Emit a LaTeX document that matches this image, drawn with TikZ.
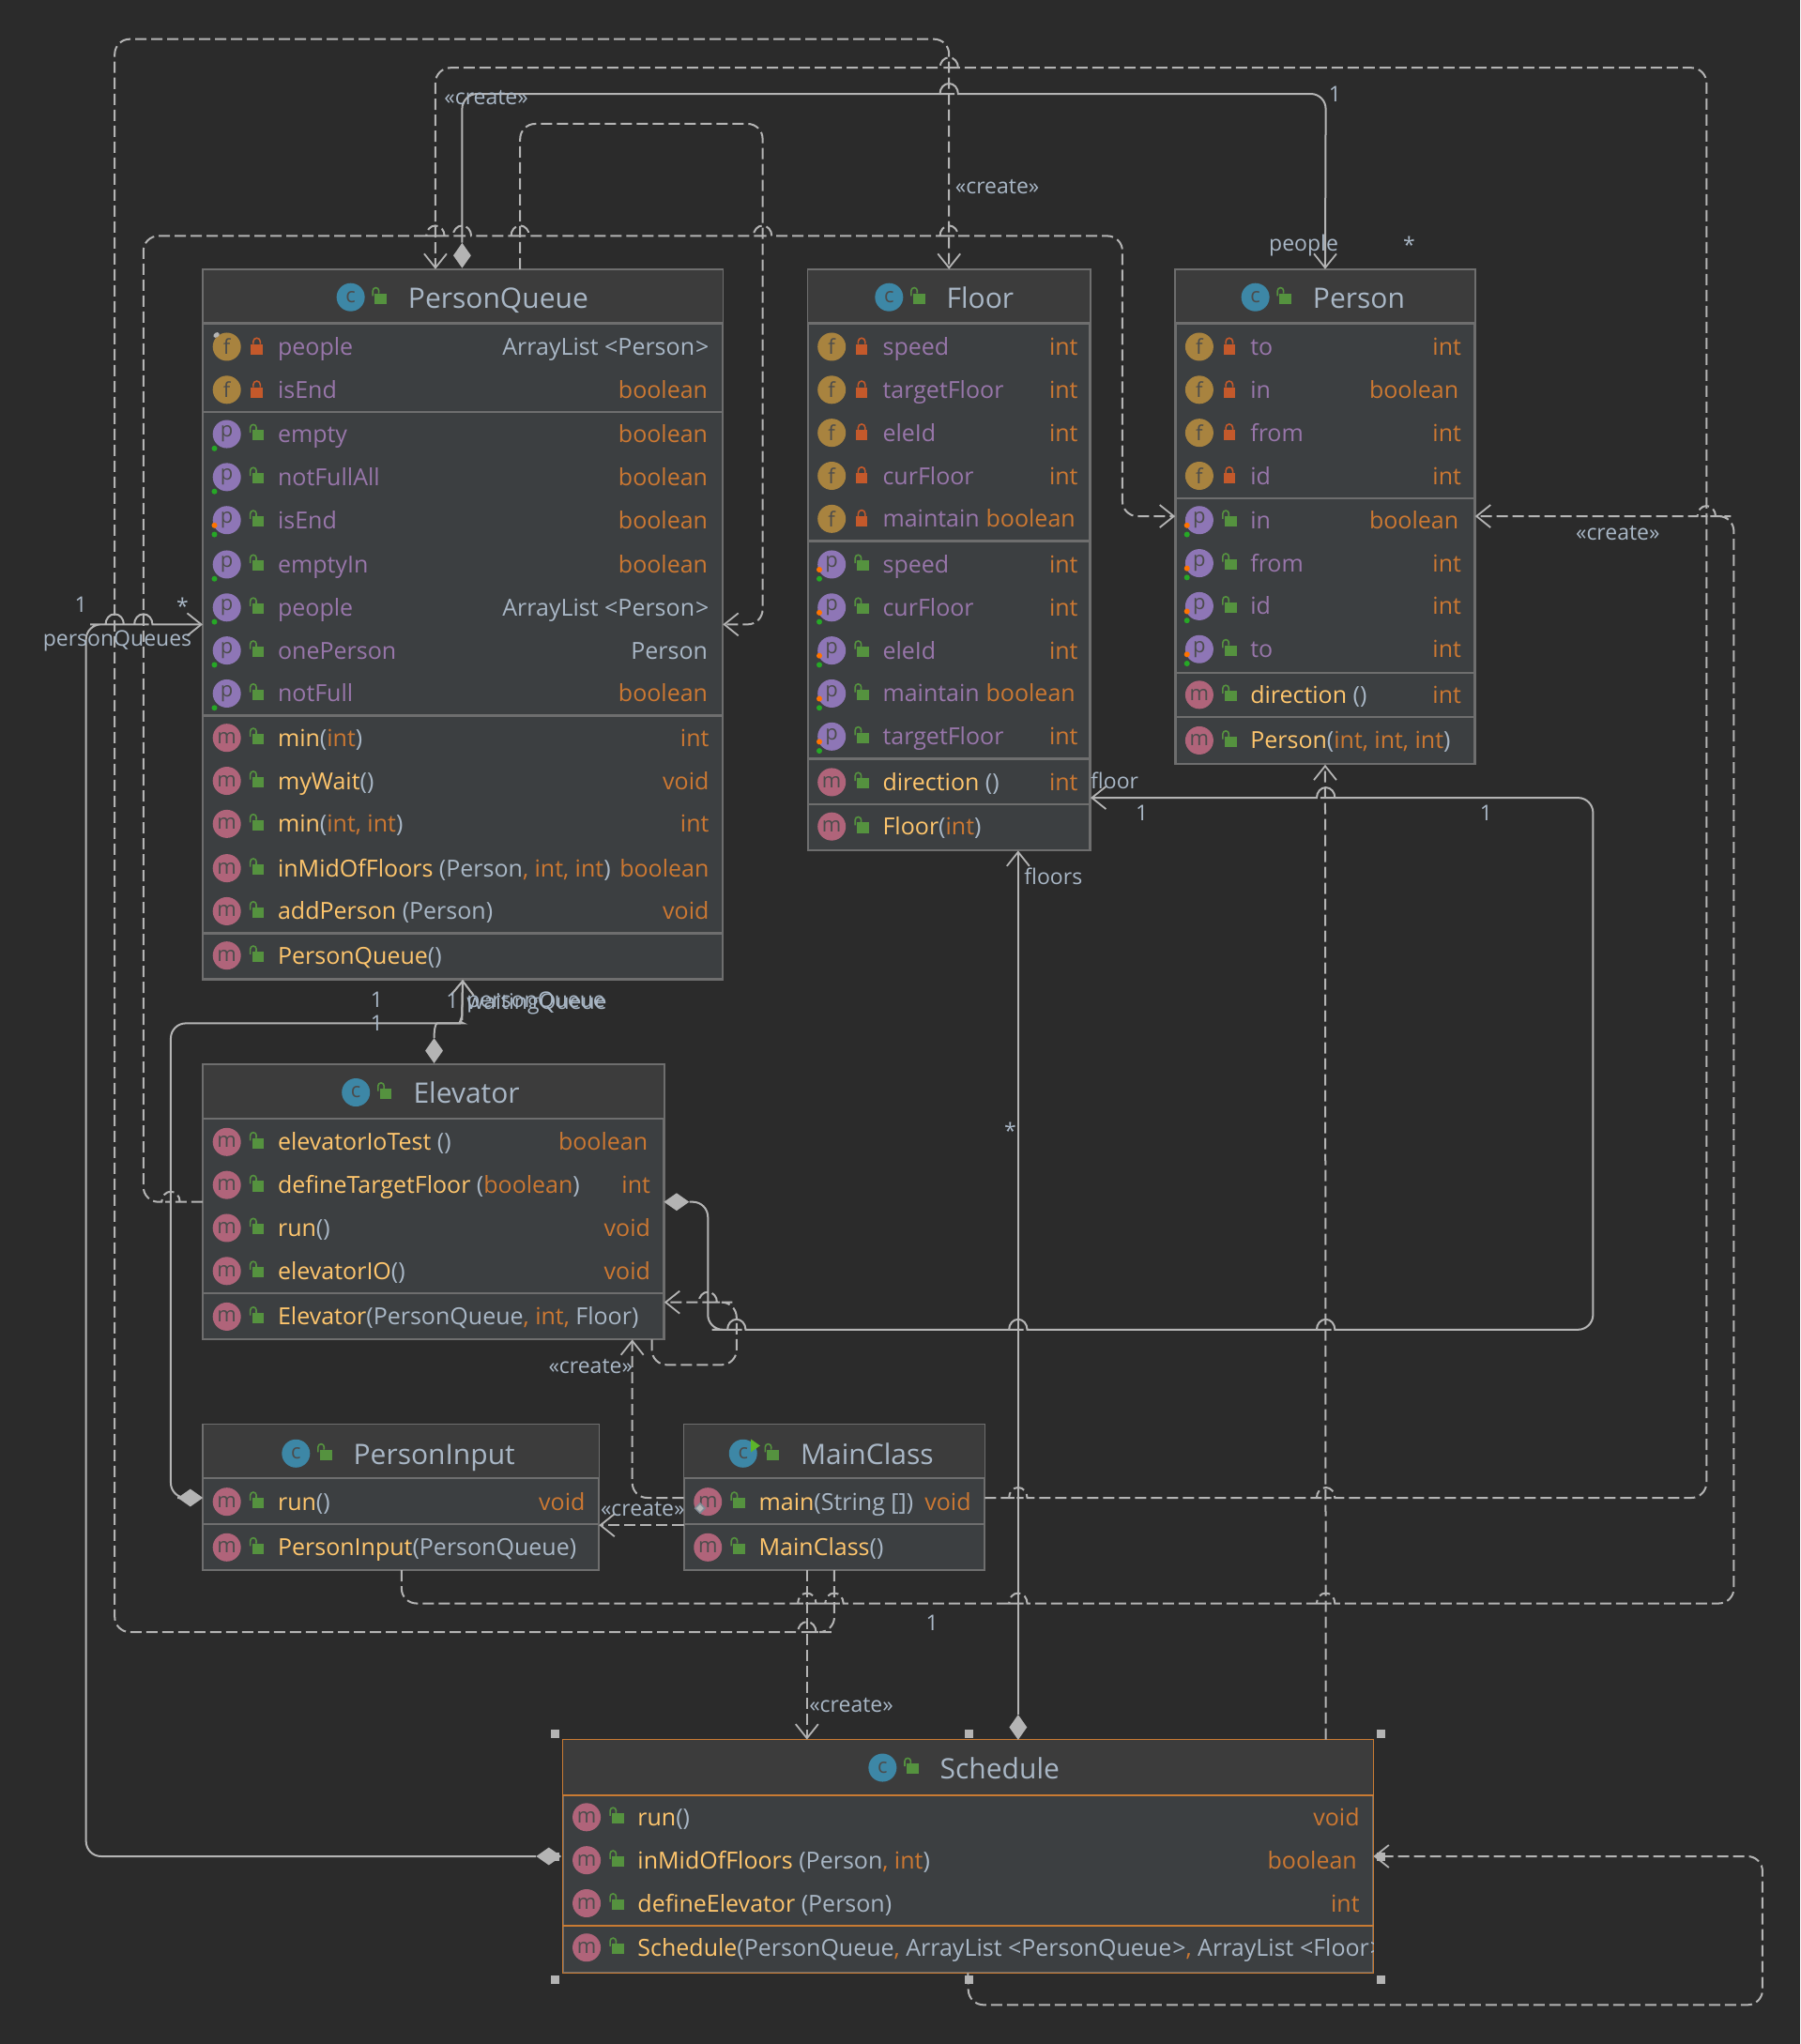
\documentclass[tikz,border=0pt]{standalone}
\usepackage{fontspec}
\setmainfont{Open Sans}
\usetikzlibrary{arrows.meta,positioning,fit,shapes.geometric}
\definecolor{bgdark}{HTML}{2B2B2B}
\definecolor{headfill}{HTML}{3C3C3C}
\definecolor{bodyfill}{HTML}{3C3F41}
\definecolor{framegrey}{HTML}{6E6E6E}
\definecolor{linegrey}{HTML}{B4B4B4}
\definecolor{selorange}{HTML}{C97B33}
\definecolor{plainblue}{HTML}{A9B7C6}
\definecolor{fieldpurple}{HTML}{9876AA}
\definecolor{methodyellow}{HTML}{FFC66D}
\definecolor{typeorange}{HTML}{CC7832}
\definecolor{iconC}{HTML}{3D87A6}
\definecolor{iconF}{HTML}{A8833F}
\definecolor{iconP}{HTML}{8E76B6}
\definecolor{iconM}{HTML}{B0647A}
\definecolor{lockpub}{HTML}{55923F}
\definecolor{lockpriv}{HTML}{C4592B}
\definecolor{runmark}{HTML}{5DB52A}
\tikzset{
  classbox/.style={draw=framegrey,line width=1.5pt,inner sep=0pt,fill=bodyfill},
  headband/.style={fill=headfill},
  sepline/.style={framegrey,line width=2.2pt},
  icon/.style={circle,inner sep=0pt,minimum size=30pt,font=\fontsize{22}{22}\selectfont,text=black!70},
  iconf/.style={icon,fill=iconF},
  iconp/.style={icon,fill=iconP},
  iconm/.style={icon,fill=iconM},
  iconc/.style={icon,fill=iconC},
  titletext/.style={anchor=base west,inner sep=0pt,yshift=-11.5pt,text=plainblue,font=\fontsize{30}{30}\selectfont},
  rowname/.style={anchor=base west,inner sep=0pt,yshift=-9pt,font=\fontsize{25}{25}\selectfont},
  rowtype/.style={anchor=base east,inner sep=0pt,yshift=-9pt,font=\fontsize{25}{25}\selectfont},
  lbl/.style={inner sep=0pt,text=plainblue,font=\fontsize{23}{23}\selectfont},
  dia/.style={diamond,fill=linegrey,inner sep=0pt},
  diav/.style={dia,minimum width=19pt,minimum height=27pt},
  diah/.style={dia,minimum width=27pt,minimum height=19pt},
  handle/.style={fill=linegrey,inner sep=0pt,minimum size=9pt},
  assoc/.style={draw=linegrey,line width=2pt,rounded corners=16pt,-{Straight Barb[length=15pt,width=24pt,line width=1.8pt]}},
  dep/.style={assoc,dash pattern=on 12pt off 5pt},
}
% text colours inside a row
\newcommand{\fn}[1]{\textcolor{fieldpurple}{#1}}
\newcommand{\mn}[1]{\textcolor{methodyellow}{#1}}
\newcommand{\ty}[1]{\textcolor{typeorange}{#1}}
\newcommand{\pn}[1]{\textcolor{plainblue}{#1}}
% line hops, left to right and right to left
\newcommand{\hopr}[2]{-- (#1-7.3,#2) {[sharp corners] -- (#1-7,#2) arc[start angle=180,end angle=0,x radius=9.7pt,y radius=11pt] -- (#1+7.3,#2)}}
\newcommand{\hopl}[2]{-- (#1+7.3,#2) {[sharp corners] -- (#1+7,#2) arc[start angle=0,end angle=180,x radius=9.7pt,y radius=11pt] -- (#1-7.3,#2)}}
% locks
\newcommand{\pubmark}[2]{
  \fill[lockpub] (#1-3.5,#2-3) rectangle (#1+5.5,#2+5);
  \draw[lockpub,line width=1.6pt] (#1-5,#2-1) -- (#1-5,#2-5) arc[start angle=180,end angle=0,radius=3.2pt] -- (#1-0.5,#2-3);
}
\newcommand{\privmark}[2]{
  \fill[lockpriv] (#1-4.5,#2-2) rectangle (#1+4.5,#2+6);
  \draw[lockpriv,line width=1.6pt] (#1-2.7,#2-2) -- (#1-2.7,#2-4) arc[start angle=180,end angle=0,radius=3.7pt] -- (#1+2.7,#2-2);
}
% class frame: name, x0, y0, x1, y1, y of the header line
\newcommand{\classframe}[6]{
  \node[classbox,fit={(#2,#3) (#4,#5)}] (#1) {};
  \fill[headband] (#1.north west) rectangle (#1.east |- 0,#6);
  \draw[sepline] (#1.west |- 0,#6) -- (#1.east |- 0,#6);
  \draw[draw=framegrey,line width=1.5pt] (#1.south west) rectangle (#1.north east);
  \def\rowL{#2}
}
% class header: name, icon x, text x, y, title
\newcommand{\classhead}[5]{
  \node[iconc] (#1Icon) at (#2,#4) {c};
  \pubmark{#2+22}{#4}
  \node[titletext] (#1Title) at (#3,#4) {#5};
}
% member row: id, y, kind, lock, text, type, right edge
\newcommand{\memberrow}[7]{
  \node[icon#3] (#1Icon) at (\rowL+18,#2) {#3};
  \csname #4mark\endcsname{\rowL+41}{#2}
  \node[rowname] (#1Name) at (\rowL+57,#2) {#5};
  \node[rowtype] (#1Type) at (#7,#2) {#6};
}
\newcommand{\greendot}[2]{\fill[green!60!black!85!white] (#1-9.5,#2+11) circle (3pt);}
\newcommand{\reddot}[2]{\fill[orange!90!red] (#1-9.5,#2+4) circle (3pt);}
\begin{document}
\begin{tikzpicture}[x=1.3889pt,y=-1.3889pt]
\fill[bgdark] (0,0) rectangle (1381,1568);
\useasboundingbox (0,0) rectangle (1381,1568);

%% PersonQueue
\classframe{pq}{156}{207}{554}{751}{248}
\classhead{pq}{269}{313}{228}{PersonQueue}
\memberrow{pqA}{266}{f}{priv}{\fn{people}}{\pn{ArrayList <Person\kern1pt>}}{544}
\memberrow{pqB}{299}{f}{priv}{\fn{isEnd}}{\ty{boolean}}{543}
\draw[sepline] (pq.west |- 0,316) -- (pq.east |- 0,316);
\memberrow{pqC}{333}{p}{pub}{\fn{empty}}{\ty{boolean}}{543}
\memberrow{pqD}{366}{p}{pub}{\fn{notFullAll}}{\ty{boolean}}{543}
\memberrow{pqE}{399}{p}{pub}{\fn{isEnd}}{\ty{boolean}}{543}
\memberrow{pqF}{433}{p}{pub}{\fn{emptyIn}}{\ty{boolean}}{543}
\memberrow{pqG}{466}{p}{pub}{\fn{people}}{\pn{ArrayList <Person\kern1pt>}}{544}
\memberrow{pqH}{499}{p}{pub}{\fn{onePerson}}{\pn{Person}}{543}
\memberrow{pqI}{532}{p}{pub}{\fn{notFull}}{\ty{boolean}}{543}
\draw[sepline] (pq.west |- 0,549) -- (pq.east |- 0,549);
\memberrow{pqJ}{566}{m}{pub}{\mn{min}\pn{(}\ty{int}\pn{)}}{\ty{int}}{544}
\memberrow{pqK}{599}{m}{pub}{\mn{myWait}\pn{()}}{\ty{void}}{544}
\memberrow{pqL}{632}{m}{pub}{\mn{min}\pn{(}\ty{int, int}\pn{)}}{\ty{int}}{544}
\memberrow{pqM}{666}{m}{pub}{\mn{inMidOfFloors }\pn{(Person}\ty{, int, int}\pn{)}}{\ty{boolean}}{544}
\memberrow{pqN}{699}{m}{pub}{\mn{addPerson }\pn{(Person)}}{\ty{void}}{544}
\draw[sepline] (pq.west |- 0,716) -- (pq.east |- 0,716);
\memberrow{pqO}{733}{m}{pub}{\mn{PersonQueue}\pn{()}}{}{544}
\foreach \y in {333,366,399,433,466,499,532} {\greendot{174}{\y}}
\reddot{174}{399}
\node[ellipse,fill=linegrey,inner sep=0pt,minimum width=7pt,minimum height=5pt,rotate=35] (pqPin) at (166,257) {};

%% Floor
\classframe{floor}{620}{207}{836}{652}{248}
\classhead{floor}{682}{726}{228}{Floor}
\memberrow{flA}{266}{f}{priv}{\fn{speed}}{\ty{int}}{827}
\memberrow{flB}{299}{f}{priv}{\fn{targetFloor}}{\ty{int}}{827}
\memberrow{flC}{332}{f}{priv}{\fn{eleId}}{\ty{int}}{827}
\memberrow{flD}{365}{f}{priv}{\fn{curFloor}}{\ty{int}}{827}
\memberrow{flE}{398}{f}{priv}{\fn{maintain}}{\ty{boolean}}{825}
\draw[sepline] (floor.west |- 0,415) -- (floor.east |- 0,415);
\memberrow{flF}{433}{p}{pub}{\fn{speed}}{\ty{int}}{827}
\memberrow{flG}{466}{p}{pub}{\fn{curFloor}}{\ty{int}}{827}
\memberrow{flH}{499}{p}{pub}{\fn{eleId}}{\ty{int}}{827}
\memberrow{flI}{532}{p}{pub}{\fn{maintain}}{\ty{boolean}}{825}
\memberrow{flJ}{565}{p}{pub}{\fn{targetFloor}}{\ty{int}}{827}
\draw[sepline] (floor.west |- 0,582) -- (floor.east |- 0,582);
\memberrow{flK}{600}{m}{pub}{\mn{direction }\pn{()}}{\ty{int}}{827}
\draw[sepline] (floor.west |- 0,617) -- (floor.east |- 0,617);
\memberrow{flL}{634}{m}{pub}{\mn{Floor}\pn{(}\ty{int}\pn{)}}{}{827}
\foreach \y in {433,466,499,532,565} {\greendot{638}{\y}\reddot{638}{\y}}

%% Person
\classframe{person}{902}{207}{1131}{586}{248}
\classhead{person}{963}{1007}{228}{Person}
\memberrow{peA}{266}{f}{priv}{\fn{to}}{\ty{int}}{1121}
\memberrow{peB}{299}{f}{priv}{\fn{in}}{\ty{boolean}}{1119}
\memberrow{peC}{332}{f}{priv}{\fn{from}}{\ty{int}}{1121}
\memberrow{peD}{365}{f}{priv}{\fn{id}}{\ty{int}}{1121}
\draw[sepline] (person.west |- 0,382) -- (person.east |- 0,382);
\memberrow{peE}{399}{p}{pub}{\fn{in}}{\ty{boolean}}{1119}
\memberrow{peF}{432}{p}{pub}{\fn{from}}{\ty{int}}{1121}
\memberrow{peG}{465}{p}{pub}{\fn{id}}{\ty{int}}{1121}
\memberrow{peH}{498}{p}{pub}{\fn{to}}{\ty{int}}{1121}
\draw[sepline] (person.west |- 0,516) -- (person.east |- 0,516);
\memberrow{peI}{533}{m}{pub}{\mn{direction }\pn{()}}{\ty{int}}{1121}
\draw[sepline] (person.west |- 0,550) -- (person.east |- 0,550);
\memberrow{peJ}{568}{m}{pub}{\mn{Person}\pn{(}\ty{int, int, int}\pn{)}}{}{1121}
\foreach \y in {399,432,465,498} {\greendot{920}{\y}\reddot{920}{\y}}

%% Elevator
\classframe{ele}{156}{817}{509}{1027}{858}
\classhead{ele}{273}{317}{838}{Elevator}
\memberrow{elA}{876}{m}{pub}{\mn{elevatorIoTest }\pn{()}}{\ty{boolean}}{497}
\memberrow{elB}{909}{m}{pub}{\mn{defineTargetFloor }\pn{(}\ty{boolean}\pn{)}}{\ty{int}}{499}
\memberrow{elC}{942}{m}{pub}{\mn{run}\pn{()}}{\ty{void}}{499}
\memberrow{elD}{975}{m}{pub}{\mn{elevatorIO}\pn{()}}{\ty{void}}{499}
\draw[sepline] (ele.west |- 0,992) -- (ele.east |- 0,992);
\memberrow{elE}{1010}{m}{pub}{\mn{Elevator}\pn{(PersonQueue}\ty{, int, }\pn{Floor)}}{}{499}

%% PersonInput
\classframe{pinput}{156}{1093}{459}{1204}{1134}
\classhead{pinput}{227}{271}{1115}{PersonInput}
\memberrow{piA}{1152}{m}{pub}{\mn{run}\pn{()}}{\ty{void}}{449}
\draw[sepline] (pinput.west |- 0,1169) -- (pinput.east |- 0,1169);
\memberrow{piB}{1187}{m}{pub}{\mn{PersonInput}\pn{(PersonQueue)}}{}{449}

%% MainClass
\classframe{mainc}{525}{1093}{755}{1204}{1134}
\classhead{mainc}{570}{614}{1115}{MainClass}
\fill[runmark] (576,1104) -- (583,1109) -- (576,1114) -- cycle;
\memberrow{maA}{1152}{m}{pub}{\mn{main}\pn{(String [])}}{\ty{void}}{745}
\draw[sepline] (mainc.west |- 0,1169) -- (mainc.east |- 0,1169);
\memberrow{maB}{1187}{m}{pub}{\mn{MainClass}\pn{()}}{}{745}
\node[diamond,draw=plainblue!75!black,fill=linegrey,line width=1.5pt,inner sep=0pt,minimum size=11pt] (maLoz) at (537,1157) {};

%% Schedule
\classframe{sched}{432}{1335}{1053}{1513}{1377}
\draw[draw=selorange,line width=1.5pt] (sched.south west) rectangle (sched.north east);
\draw[sepline,selorange] (sched.west |- 0,1377) -- (sched.east |- 0,1377);
\classhead{sched}{677}{721}{1356}{Schedule}
\memberrow{scA}{1394}{m}{pub}{\mn{run}\pn{()}}{\ty{void}}{1043}
\memberrow{scB}{1427}{m}{pub}{\mn{inMidOfFloors }\pn{(Person}\ty{, int}\pn{)}}{\ty{boolean}}{1041}
\memberrow{scC}{1460}{m}{pub}{\mn{defineElevator }\pn{(Person)}}{\ty{int}}{1043}
\draw[sepline,selorange] (sched.west |- 0,1477) -- (sched.east |- 0,1477);
\begin{scope}
  \clip (sched.south west) rectangle (sched.north east);
  \memberrow{scD}{1494}{m}{pub}{\mn{Schedule}\pn{(PersonQueue}\ty{, }\pn{ArrayList <PersonQueue\kern1pt>}\ty{, }\pn{ArrayList <Floor\kern1pt>}}{}{1043}
\end{scope}

%% composition ends
\node[diav] (dPq) at (354.5,196) {};
\node[diav] (dEleT) at (333,806) {};
\node[diah] (dEleR) at (519,922) {};
\node[diah] (dInput) at (146,1149) {};
\node[diah] (dSchL) at (421,1424) {};
\node[diav] (dSchT) at (781,1325) {};

%% solid links
\draw[assoc] (dPq.north) -- (354.5,72) \hopr{728}{72} -- (1017,72) -- (person.north);
\draw[assoc,rounded corners=12pt] (dEleT.north) .. controls (333,790) and (334,785) .. (344,785) .. controls (352,785) and (354.5,780) .. (354.5,770) -- (pq.south);
\draw[assoc] (dInput.west) -- (131,1149) -- (131,785) -- (344,785) .. controls (352,785) and (354.5,780) .. (354.5,770) -- (pq.south);
\draw[assoc] (dEleR.east) -- (543,922) -- (543,1020) \hopr{565}{1020} \hopr{781}{1020} \hopr{1017}{1020} -- (1222,1020) -- (1222,612) \hopl{1017}{612} -- (floor.east |- 0,612);
\draw[assoc] (dSchL.west) -- (66,1424) -- (66,479) \hopr{88}{479} \hopr{110}{479} -- (pq.west |- 0,479);
\draw[assoc] (dSchT.north) -- (floor.south -| 781,0);

%% dashed links
\draw[dep] (mainc.south -| 640,0) -- (640,1252) \hopl{619}{1252} -- (88,1252) -- (88,30) -- (728,30) -- (floor.north);
\draw[dep] (mainc.east |- 0,1149) \hopr{781}{1149} \hopr{1017}{1149} -- (1309,1149) -- (1309,52) \hopl{728}{52} -- (334,52) -- (pq.north -| 334,0);
\draw[dep] (pq.north -| 399,0) -- (399,95) -- (585,95) -- (585,479) -- (pq.east |- 0,479);
\draw[dep] (ele.west |- 0,922) \hopl{131}{922} -- (110,922) -- (110,181) \hopr{334}{181} \hopr{354.5}{181} \hopr{399}{181} \hopr{585}{181} \hopr{728}{181} -- (861,181) -- (861,396) -- (person.west |- 0,396);
\draw[dep] (ele.south -| 500,0) -- (500,1047) -- (565,1047) -- (565,999) \hopl{543}{999} -- (ele.east |- 0,999);
\draw[dep] (mainc.west |- 0,1149) -- (485,1149) -- (ele.south -| 485,0);
\draw[dep] (mainc.west |- 0,1170) -- (pinput.east |- 0,1170);
\draw[dep] (pinput.south -| 308,0) -- (308,1230) \hopr{619}{1230} \hopr{640}{1230} \hopr{781}{1230} \hopr{1017}{1230} -- (1330,1230) -- (1330,396) \hopl{1309}{396} -- (person.east |- 0,396);
\draw[dep] (mainc.south -| 619,0) -- (sched.north -| 619,0);
\draw[dep] (sched.north -| 1017,0) -- (person.south);
\draw[dep] (sched.south) -- (743,1538) -- (1352,1538) -- (1352,1424) -- (sched.east |- 0,1424);

%% link labels
\node[lbl] (lbCreateA) at (373,75) {«create»};
\node[lbl] (lbCreateB) at (765,143) {«create»};
\node[lbl] (lbCreateC) at (1241,409) {«create»};
\node[lbl] (lbCreateD) at (453,1048) {«create»};
\node[lbl] (lbCreateE) at (493,1158) {«create»};
\node[lbl] (lbCreateF) at (653,1308) {«create»};
\node[lbl] (lbOneA) at (1024,72) {1};
\node[lbl] (lbPeople) at (1000,188) {people};
\node[lbl] (lbStarA) at (1081,188) {*};
\node[lbl] (lbOneB) at (62,464) {1};
\node[lbl] (lbStarB) at (140,465) {*};
\node[lbl] (lbQueues) at (90,492) {personQueues};
\node[lbl] (lbOneC) at (289,767) {1};
\node[lbl] (lbOneD) at (289,785) {1};
\node[lbl] (lbOneE) at (347,768) {1};
\node[lbl,anchor=west] (lbQueue) at (358,769) {personQueue};
\node[lbl,anchor=west] (lbWaiting) at (358,770) {waitingQueue};
\node[lbl] (lbFloor) at (855,599) {floor};
\node[lbl] (lbOneF) at (876,624) {1};
\node[lbl] (lbOneG) at (1140,624) {1};
\node[lbl] (lbFloors) at (808,672) {floors};
\node[lbl] (lbStarC) at (775,867) {*};
\node[lbl] (lbOneH) at (715,1245) {1};

%% selection handles
\node[handle] (hA) at (426,1330) {};
\node[handle] (hB) at (743,1330) {};
\node[handle] (hC) at (1059,1330) {};
\node[handle] (hD) at (426,1519) {};
\node[handle] (hE) at (743,1519) {};
\node[handle] (hF) at (1059,1519) {};
\node[handle] (hG) at (426,1424) {};
\node[handle] (hH) at (1059,1424) {};
\end{tikzpicture}
\end{document}
